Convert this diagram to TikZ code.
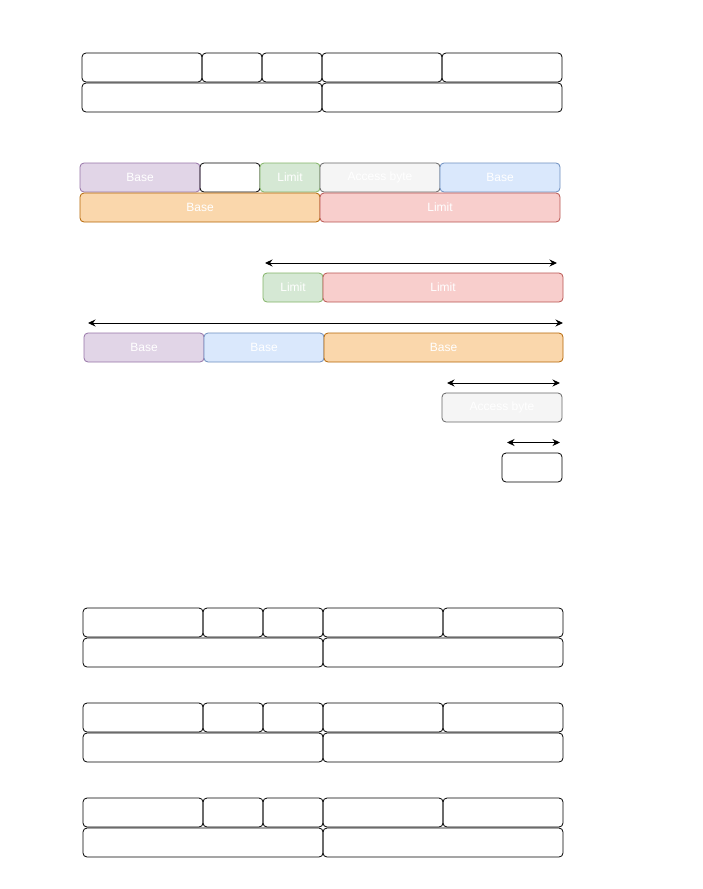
\documentclass[tikz,border=0pt]{standalone}
\usepackage{fontspec}
\setsansfont{Liberation Sans}
\usetikzlibrary{arrows.meta, positioning}
\definecolor{basepfill}{HTML}{E1D5E7}
\definecolor{basepborder}{HTML}{9673A6}
\definecolor{limitgfill}{HTML}{D5E8D4}
\definecolor{limitgborder}{HTML}{82B366}
\definecolor{accfill}{HTML}{F5F5F5}
\definecolor{accborder}{HTML}{666666}
\definecolor{basebfill}{HTML}{DAE8FC}
\definecolor{basebborder}{HTML}{6C8EBF}
\definecolor{baseofill}{HTML}{FAD7AC}
\definecolor{baseoborder}{HTML}{B46504}
\definecolor{limitrfill}{HTML}{F8CECC}
\definecolor{limitrborder}{HTML}{B85450}
\tikzset{
  cell/.style={rectangle, rounded corners=4pt, draw=black, line width=0.8pt,
               minimum height=29pt, inner sep=0pt, outer sep=0pt, text=white,
               font=\sffamily\fontsize{12}{14}\selectfont},
  narrow/.style={cell, minimum width=60pt},
  wide/.style={cell, minimum width=120pt},
  half/.style={cell, minimum width=240pt},
  purple/.style={fill=basepfill, draw=basepborder},
  green/.style={fill=limitgfill, draw=limitgborder},
  grey/.style={fill=accfill, draw=accborder},
  blue/.style={fill=basebfill, draw=basebborder},
  orange/.style={fill=baseofill, draw=baseoborder},
  red/.style={fill=limitrfill, draw=limitrborder},
  span/.style={{Stealth[length=7.5pt,width=7pt]}-{Stealth[length=7.5pt,width=7pt]}, line width=1pt},
}

\begin{document}
\begin{tikzpicture}[x=1pt, y=-1pt]
\useasboundingbox (0,0) rectangle (702,889);

% Empty descriptor layouts
\foreach \g/\x/\y in {a/82/53, b/83/608, c/83/703, d/83/798} {
  \node[wide, anchor=north west] (\g1) at (\x,\y) {};
  \node[narrow, right=0pt of \g1] (\g2) {};
  \node[narrow, right=0pt of \g2] (\g3) {};
  \node[wide, right=0pt of \g3] (\g4) {};
  \node[wide, right=0pt of \g4] (\g5) {};
  \node[half, anchor=north west] (\g6) at (\x,\y+30) {};
  \node[half, right=0pt of \g6] (\g7) {};
}

% Coloured descriptor
\node[wide, purple, anchor=north west] (dbase3) at (80,163) {Base};
\node[narrow, right=0pt of dbase3] (dflags) {};
\node[narrow, green, right=0pt of dflags] (dlimit2) {Limit};
\node[wide, grey, right=0pt of dlimit2] (dacc) {Access byte};
\node[wide, blue, right=0pt of dacc] (dbase2) {Base};
\node[half, orange, anchor=north west] (dbase1) at (80,193) {Base};
\node[half, red, right=0pt of dbase1] (dlimit1) {Limit};

% Limit, joined
\node[narrow, green, anchor=north west] (jlimit2) at (263,273) {Limit};
\node[half, red, right=0pt of jlimit2] (jlimit1) {Limit};
\coordinate (limL) at (265,263);
\coordinate (limR) at (557,263);

% Base, joined
\node[wide, purple, anchor=north west] (jbase3) at (84,333) {Base};
\node[wide, blue, right=0pt of jbase3] (jbase2) {Base};
\node[cell, orange, minimum width=239pt, right=0pt of jbase2] (jbase1) {Base};
\coordinate (baseL) at (88,323);
\coordinate (baseR) at (563,323);

% Access byte and flags
\node[wide, grey, anchor=north west] (jacc) at (442,393) {Access byte};
\coordinate (accL) at (447,383);
\coordinate (accR) at (560,383);
\node[narrow, anchor=north west] (jflags) at (502,453) {};
\coordinate (flgL) at (507,442.5);
\coordinate (flgR) at (560,442.5);

% Spans
\draw[span] (limL) -- (limR);
\draw[span] (baseL) -- (baseR);
\draw[span] (accL) -- (accR);
\draw[span] (flgL) -- (flgR);

\end{tikzpicture}
\end{document}
